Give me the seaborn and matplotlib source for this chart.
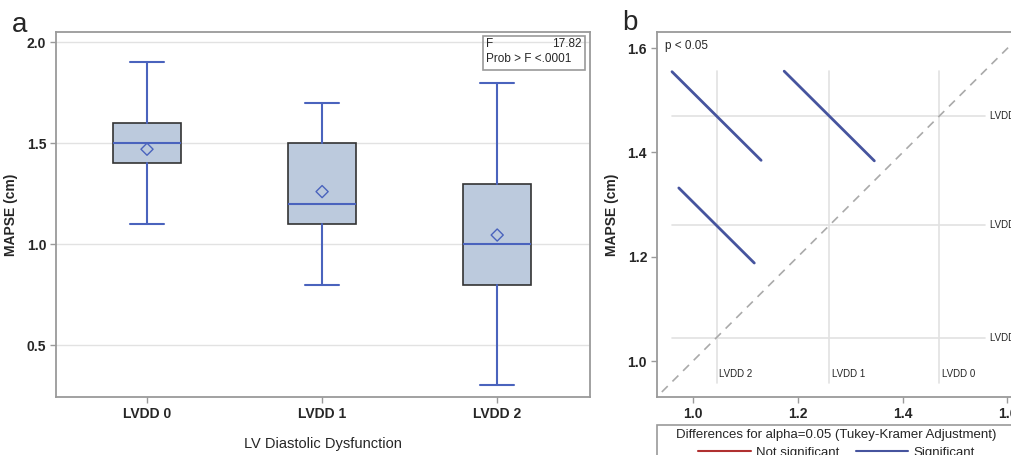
import matplotlib
matplotlib.use("Agg")
import matplotlib.pyplot as plt
import matplotlib.patches as mpatches
from matplotlib.lines import Line2D
import seaborn as sns
import pandas as pd

# box stats per group
groups = ["LVDD 0", "LVDD 1", "LVDD 2"]
q1 = [1.4, 1.1, 0.8]
med = [1.5, 1.2, 1.0]
q3 = [1.6, 1.5, 1.3]
whislo = [1.1, 0.8, 0.3]
whishi = [1.9, 1.7, 1.8]
means = [1.47, 1.26, 1.045]

# diffogram: pairs (x group, y group) and half-widths of the CI segments
pair_x = [2, 1, 2]
pair_y = [0, 0, 1]
half_w = [0.085, 0.086, 0.072]

sns.set_theme(style="white")
plt.rcParams["font.family"] = ["Liberation Sans", "DejaVu Sans"]

blue = "#4a63bd"
dblue = "#46549e"
fill = "#bccadd"
frame = "#9a9a9a"
grid = "#e2e2e2"

fig = plt.figure(figsize=(10.12, 4.55), dpi=100)
ax1 = fig.add_axes([0.0553, 0.1275, 0.5277, 0.802])
ax2 = fig.add_axes([0.649, 0.1275, 0.3626, 0.802])

# ---- panel a: box plot
stats = []
for i in range(len(groups)):
    stats.append(dict(med=med[i], q1=q1[i], q3=q3[i], whislo=whislo[i],
                      whishi=whishi[i], mean=means[i], fliers=[], label=groups[i]))
for yv in [0.5, 1.0, 1.5, 2.0]:
    ax1.axhline(yv, color=grid, lw=1, zorder=0)
ax1.bxp(stats, positions=range(3), widths=0.39, capwidths=0.194, patch_artist=True,
        showmeans=False,
        boxprops=dict(facecolor=fill, edgecolor="#333333", linewidth=1.2),
        whiskerprops=dict(color=blue, linewidth=1.5),
        capprops=dict(color=blue, linewidth=1.5),
        medianprops=dict(color=blue, linewidth=1.5))
mdf = pd.DataFrame({"grp": range(3), "mean": means})
sns.scatterplot(data=mdf, x="grp", y="mean", marker="D", s=38, facecolor="none",
                edgecolor=blue, linewidth=1.0, zorder=5, ax=ax1)
ax1.set_xlim(-0.52, 2.53)
ax1.set_ylim(0.243, 2.05)
ax1.set_xticks(range(3))
ax1.set_xticklabels(groups)
ax1.set_yticks([0.5, 1.0, 1.5, 2.0])
ax1.set_yticklabels(["0.5", "1.0", "1.5", "2.0"])
ax1.set_xlabel("LV Diastolic Dysfunction", fontsize=10.5, labelpad=12)
ax1.set_ylabel("MAPSE (cm)", fontsize=10, fontweight="bold", labelpad=6)
ax1.tick_params(axis="both", labelsize=10, length=4, color=frame, width=1,
                bottom=True, left=True, pad=3)
for lab in ax1.get_yticklabels() + ax1.get_xticklabels():
    lab.set_fontweight("semibold")
for s in ax1.spines.values():
    s.set_color(frame)
    s.set_linewidth(1.3)
ax1.text(0.806, 0.985, "F", transform=ax1.transAxes, fontsize=8.5, va="top", ha="left")
ax1.text(0.984, 0.985, "17.82", transform=ax1.transAxes, fontsize=8.5, va="top", ha="right")
ax1.text(0.806, 0.942, "Prob > F <.0001", transform=ax1.transAxes, fontsize=8.5,
         va="top", ha="left")
ax1.add_patch(mpatches.Rectangle((0.8, 0.897), 0.19, 0.093, transform=ax1.transAxes,
                                 fill=False, edgecolor=frame, linewidth=1.2))
fig.text(0.012, 0.93, "a", fontsize=20)

# ---- panel b: diffogram
lo, hi = 0.96, 1.557
for m, g in zip(means, groups):
    ax2.plot([m, m], [0.958, hi], color=grid, lw=1.2, zorder=0)
    ax2.plot([lo, hi], [m, m], color=grid, lw=1.2, zorder=0)
    ax2.text(m + 0.005, 0.966, g, fontsize=7, va="bottom", ha="left")
    ax2.text(hi + 0.01, m, g, fontsize=7, va="center", ha="left", clip_on=False)
ax2.plot([0.9, 1.7], [0.9, 1.7], color="#aaaaaa", lw=1.2, ls=(0, (5, 4)), zorder=1)
rows = []
for k in range(len(pair_x)):
    mx, my, h = means[pair_x[k]], means[pair_y[k]], half_w[k]
    rows.append({"pair": k, "x": mx - h, "y": my + h})
    rows.append({"pair": k, "x": mx + h, "y": my - h})
seg = pd.DataFrame(rows)
sns.lineplot(data=seg, x="x", y="y", units="pair", estimator=None, sort=False,
             color=dblue, lw=2, ax=ax2)
ax2.set_xlim(0.931, 1.631)
ax2.set_ylim(0.931, 1.631)
ax2.set_xticks([1.0, 1.2, 1.4, 1.6])
ax2.set_xticklabels(["1.0", "1.2", "1.4", "1.6"])
ax2.set_yticks([1.0, 1.2, 1.4, 1.6])
ax2.set_yticklabels(["1.0", "1.2", "1.4", "1.6"])
ax2.set_xlabel("")
ax2.set_ylabel("MAPSE (cm)", fontsize=10, fontweight="bold", labelpad=6)
ax2.tick_params(axis="both", labelsize=10, length=4, color=frame, width=1,
                bottom=True, left=True, pad=3)
for lab in ax2.get_yticklabels() + ax2.get_xticklabels():
    lab.set_fontweight("semibold")
for s in ax2.spines.values():
    s.set_color(frame)
    s.set_linewidth(1.3)
ax2.text(0.022, 0.977, "p < 0.05", transform=ax2.transAxes, fontsize=8.5,
         va="top", ha="left")
fig.text(0.615, 0.935, "b", fontsize=20)

# legend box below panel b
ax2.add_patch(mpatches.Rectangle((0, -0.2), 1.0, 0.123, transform=ax2.transAxes,
                                 fill=False, edgecolor=frame, linewidth=1.2, clip_on=False))
ax2.text(0.49, -0.088, "Differences for alpha=0.05 (Tukey-Kramer Adjustment)",
         transform=ax2.transAxes, fontsize=9.5, ha="center", va="top")
handles = [Line2D([], [], color="#b03030", lw=1.5), Line2D([], [], color=dblue, lw=1.5)]
ax2.legend(handles, ["Not significant", "Significant"], ncol=2, frameon=False,
           loc="upper center", bbox_to_anchor=(0.49, -0.118), fontsize=9.5,
           handlelength=4, columnspacing=1.2, handletextpad=0.4, borderpad=0)

fig.savefig("out.png", dpi=100)
